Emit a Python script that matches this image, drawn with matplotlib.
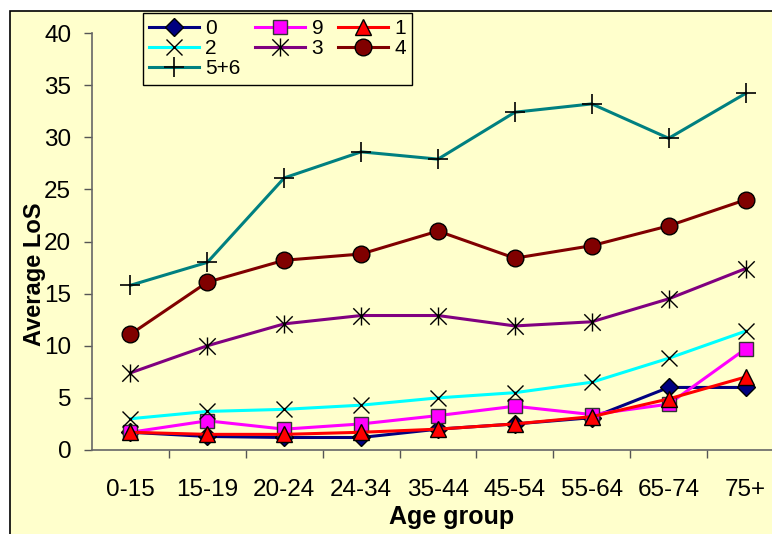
import numpy as np
import matplotlib
matplotlib.use('Agg')
import matplotlib.pyplot as plt
from matplotlib.patches import Rectangle
from matplotlib.path import Path

plt.rcParams['font.family'] = ['Liberation Sans', 'DejaVu Sans']

age_groups = ['0-15', '15-19', '20-24', '24-34', '35-44', '45-54', '55-64', '65-74', '75+']

los_0 = [1.7, 1.3, 1.2, 1.2, 2.0, 2.5, 3.1, 6.0, 6.0]
los_9 = [1.7, 2.8, 2.0, 2.5, 3.3, 4.2, 3.4, 4.4, 9.7]
los_1 = [1.7, 1.5, 1.5, 1.7, 2.0, 2.5, 3.2, 4.9, 7.0]
los_2 = [3.0, 3.7, 3.9, 4.3, 5.0, 5.5, 6.5, 8.8, 11.4]
los_3 = [7.4, 10.0, 12.1, 12.9, 12.9, 11.9, 12.3, 14.5, 17.4]
los_4 = [11.1, 16.1, 18.2, 18.8, 21.0, 18.4, 19.6, 21.5, 24.0]
los_56 = [15.8, 18.0, 26.1, 28.6, 27.9, 32.4, 33.2, 29.9, 34.2]

bg = '#FFFFCC'

# excel style asterisk: vertical bar plus an x
star = Path([(-1, -1), (1, 1), (-1, 1), (1, -1), (0, -1.1), (0, 1.1)],
            [Path.MOVETO, Path.LINETO, Path.MOVETO, Path.LINETO, Path.MOVETO, Path.LINETO])

series = [
    ('0', los_0, dict(color='#000080', marker='D', ms=9, mfc='#000080', mec='black', mew=1)),
    ('9', los_9, dict(color='#FF00FF', marker='s', ms=10, mfc='#FF00FF', mec='#333333', mew=1)),
    ('1', los_1, dict(color='#FF0000', marker='^', ms=12, mfc='#FF0000', mec='black', mew=1)),
    ('2', los_2, dict(color='#00FFFF', marker='x', ms=11, mec='black', mew=1)),
    ('3', los_3, dict(color='#800080', marker=star, ms=13, mec='black', mew=1)),
    ('4', los_4, dict(color='#800000', marker='o', ms=12, mfc='#800000', mec='black', mew=1)),
    ('5+6', los_56, dict(color='#008080', marker='+', ms=14, mec='black', mew=1.2)),
]

fig = plt.figure(figsize=(7.72, 5.34), dpi=100)
frame = Rectangle((10 / 772, -0.05), 1.05, 1 - 11 / 534 + 0.05,
                  transform=fig.transFigure, facecolor=bg,
                  edgecolor='black', linewidth=1.2, zorder=-10)
fig.patches.append(frame)

ax = fig.add_axes([92 / 772, 1 - 450 / 534, 692 / 772, 417 / 534])
ax.set_zorder(1)
ax.patch.set_visible(False)

x = np.arange(len(age_groups))
handles = {}
for name, vals, st in series:
    line, = ax.plot(x, vals, lw=2.2, label=name, clip_on=False, **st)
    handles[name] = line

ax.set_xlim(-0.5, len(age_groups) - 0.5)
ax.set_ylim(0, 40)
ax.set_yticks(np.arange(0, 41, 5))
ax.set_xticks(x)
ax.set_xticklabels(age_groups)
ax.set_xticks(np.arange(0.5, len(age_groups) - 0.5), minor=True)
ax.tick_params(axis='x', which='major', length=0, pad=21, labelsize=17.5)
ax.tick_params(axis='x', which='minor', length=6, width=1, color='#555555', direction='out')
ax.tick_params(axis='y', length=6, width=1, color='#555555', direction='out', labelsize=17.5, pad=9)

for s in ['top', 'right']:
    ax.spines[s].set_visible(False)
ax.spines['left'].set_color('#666666')
ax.spines['bottom'].set_color('#666666')
ax.spines['left'].set_linewidth(1.2)
ax.spines['bottom'].set_linewidth(1.2)

ax.set_ylabel('Average LoS', fontsize=17, fontweight='bold')
ax.set_xlabel('Age group', fontsize=18, fontweight='bold')
ax.yaxis.set_label_coords(-0.066, 0.422)
ax.xaxis.set_label_coords(0.519, -0.132)

order = ['0', '2', '5+6', '9', '3', '1', '4']
leg = fig.legend([handles[k] for k in order], order, loc='upper left',
                 bbox_to_anchor=(143 / 772, 1 - 13 / 534), bbox_transform=fig.transFigure,
                 ncol=3, fontsize=15, frameon=True, fancybox=False, borderaxespad=0,
                 handlelength=2.4, handletextpad=0.3, columnspacing=0.7,
                 labelspacing=0.05, borderpad=0.3)
leg.set_zorder(5)
leg.get_frame().set_facecolor(bg)
leg.get_frame().set_edgecolor('black')
leg.get_frame().set_linewidth(1)
leg.get_frame().set_alpha(1)

fig.savefig('out.png', dpi=100)
